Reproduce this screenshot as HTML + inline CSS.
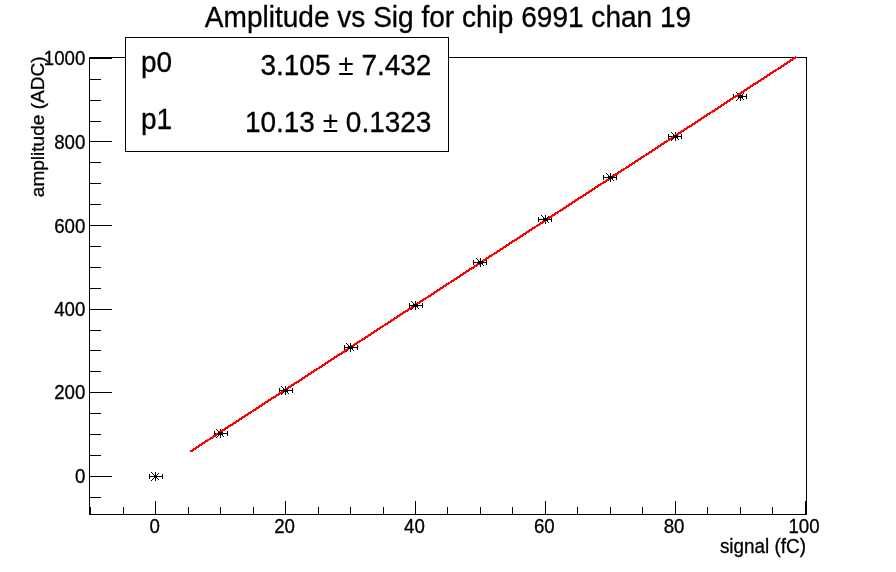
<!DOCTYPE html>
<html lang="en"><head><meta charset="utf-8"><title>Amplitude vs Sig for chip 6991 chan 19</title>
<style>
html,body{margin:0;padding:0;background:#fff;}
body{width:896px;height:572px;overflow:hidden;}
svg{display:block;}
text{font-family:"Liberation Sans",sans-serif;fill:#000;stroke:#000;stroke-width:0.3px;}
.ax{font-size:18.7px;}
.big{font-size:28.05px;}
.st{font-size:28px;}
.rot{font-size:19.05px;}
.xt{font-size:18.9px;}
</style></head><body>
<svg width="896" height="572" viewBox="0 0 896 572">
<rect x="0" y="0" width="896" height="572" fill="#fff"/>
<g shape-rendering="crispEdges" fill="#000">
<rect x="89" y="57" width="718" height="1"/>
<rect x="89" y="514" width="718" height="1"/>
<rect x="89" y="57" width="1" height="458"/>
<rect x="806" y="57" width="1" height="458"/>
<rect x="89" y="497" width="12" height="1"/>
<rect x="89" y="476" width="23" height="1"/>
<rect x="89" y="455" width="12" height="1"/>
<rect x="89" y="434" width="12" height="1"/>
<rect x="89" y="413" width="12" height="1"/>
<rect x="89" y="392" width="23" height="1"/>
<rect x="89" y="371" width="12" height="1"/>
<rect x="89" y="350" width="12" height="1"/>
<rect x="89" y="330" width="12" height="1"/>
<rect x="89" y="309" width="23" height="1"/>
<rect x="89" y="288" width="12" height="1"/>
<rect x="89" y="267" width="12" height="1"/>
<rect x="89" y="246" width="12" height="1"/>
<rect x="89" y="225" width="23" height="1"/>
<rect x="89" y="204" width="12" height="1"/>
<rect x="89" y="183" width="12" height="1"/>
<rect x="89" y="162" width="12" height="1"/>
<rect x="89" y="141" width="23" height="1"/>
<rect x="89" y="121" width="12" height="1"/>
<rect x="89" y="100" width="12" height="1"/>
<rect x="89" y="79" width="12" height="1"/>
<rect x="89" y="58" width="23" height="1"/>
<rect x="90" y="507" width="1" height="8"/>
<rect x="123" y="507" width="1" height="8"/>
<rect x="155" y="501" width="1" height="14"/>
<rect x="188" y="507" width="1" height="8"/>
<rect x="220" y="507" width="1" height="8"/>
<rect x="253" y="507" width="1" height="8"/>
<rect x="285" y="501" width="1" height="14"/>
<rect x="318" y="507" width="1" height="8"/>
<rect x="350" y="507" width="1" height="8"/>
<rect x="383" y="507" width="1" height="8"/>
<rect x="415" y="501" width="1" height="14"/>
<rect x="447" y="507" width="1" height="8"/>
<rect x="480" y="507" width="1" height="8"/>
<rect x="512" y="507" width="1" height="8"/>
<rect x="545" y="501" width="1" height="14"/>
<rect x="577" y="507" width="1" height="8"/>
<rect x="610" y="507" width="1" height="8"/>
<rect x="642" y="507" width="1" height="8"/>
<rect x="675" y="501" width="1" height="14"/>
<rect x="707" y="507" width="1" height="8"/>
<rect x="740" y="507" width="1" height="8"/>
<rect x="772" y="507" width="1" height="8"/>
<rect x="805" y="501" width="1" height="14"/>
</g>
<g shape-rendering="crispEdges" fill="#000" stroke="none">
<rect x="149" y="476" width="14" height="1"/>
<rect x="149" y="474" width="1" height="5"/>
<rect x="162" y="474" width="1" height="5"/>
<rect x="155" y="472" width="1" height="9"/>
<rect x="151" y="472" width="1" height="1"/>
<rect x="151" y="480" width="1" height="1"/>
<rect x="152" y="473" width="1" height="1"/>
<rect x="152" y="479" width="1" height="1"/>
<rect x="153" y="474" width="1" height="1"/>
<rect x="153" y="478" width="1" height="1"/>
<rect x="154" y="475" width="1" height="1"/>
<rect x="154" y="477" width="1" height="1"/>
<rect x="155" y="476" width="1" height="1"/>
<rect x="155" y="476" width="1" height="1"/>
<rect x="156" y="477" width="1" height="1"/>
<rect x="156" y="475" width="1" height="1"/>
<rect x="157" y="478" width="1" height="1"/>
<rect x="157" y="474" width="1" height="1"/>
<rect x="158" y="479" width="1" height="1"/>
<rect x="158" y="473" width="1" height="1"/>
<rect x="214" y="433" width="14" height="1"/>
<rect x="214" y="431" width="1" height="5"/>
<rect x="227" y="431" width="1" height="5"/>
<rect x="220" y="429" width="1" height="9"/>
<rect x="216" y="429" width="1" height="1"/>
<rect x="216" y="437" width="1" height="1"/>
<rect x="217" y="430" width="1" height="1"/>
<rect x="217" y="436" width="1" height="1"/>
<rect x="218" y="431" width="1" height="1"/>
<rect x="218" y="435" width="1" height="1"/>
<rect x="219" y="432" width="1" height="1"/>
<rect x="219" y="434" width="1" height="1"/>
<rect x="220" y="433" width="1" height="1"/>
<rect x="220" y="433" width="1" height="1"/>
<rect x="221" y="434" width="1" height="1"/>
<rect x="221" y="432" width="1" height="1"/>
<rect x="222" y="435" width="1" height="1"/>
<rect x="222" y="431" width="1" height="1"/>
<rect x="223" y="436" width="1" height="1"/>
<rect x="223" y="430" width="1" height="1"/>
<rect x="279" y="390" width="14" height="1"/>
<rect x="279" y="388" width="1" height="5"/>
<rect x="292" y="388" width="1" height="5"/>
<rect x="285" y="386" width="1" height="9"/>
<rect x="281" y="386" width="1" height="1"/>
<rect x="281" y="394" width="1" height="1"/>
<rect x="282" y="387" width="1" height="1"/>
<rect x="282" y="393" width="1" height="1"/>
<rect x="283" y="388" width="1" height="1"/>
<rect x="283" y="392" width="1" height="1"/>
<rect x="284" y="389" width="1" height="1"/>
<rect x="284" y="391" width="1" height="1"/>
<rect x="285" y="390" width="1" height="1"/>
<rect x="285" y="390" width="1" height="1"/>
<rect x="286" y="391" width="1" height="1"/>
<rect x="286" y="389" width="1" height="1"/>
<rect x="287" y="392" width="1" height="1"/>
<rect x="287" y="388" width="1" height="1"/>
<rect x="288" y="393" width="1" height="1"/>
<rect x="288" y="387" width="1" height="1"/>
<rect x="344" y="347" width="14" height="1"/>
<rect x="344" y="345" width="1" height="5"/>
<rect x="357" y="345" width="1" height="5"/>
<rect x="350" y="343" width="1" height="9"/>
<rect x="346" y="343" width="1" height="1"/>
<rect x="346" y="351" width="1" height="1"/>
<rect x="347" y="344" width="1" height="1"/>
<rect x="347" y="350" width="1" height="1"/>
<rect x="348" y="345" width="1" height="1"/>
<rect x="348" y="349" width="1" height="1"/>
<rect x="349" y="346" width="1" height="1"/>
<rect x="349" y="348" width="1" height="1"/>
<rect x="350" y="347" width="1" height="1"/>
<rect x="350" y="347" width="1" height="1"/>
<rect x="351" y="348" width="1" height="1"/>
<rect x="351" y="346" width="1" height="1"/>
<rect x="352" y="349" width="1" height="1"/>
<rect x="352" y="345" width="1" height="1"/>
<rect x="353" y="350" width="1" height="1"/>
<rect x="353" y="344" width="1" height="1"/>
<rect x="409" y="305" width="14" height="1"/>
<rect x="409" y="303" width="1" height="5"/>
<rect x="422" y="303" width="1" height="5"/>
<rect x="415" y="301" width="1" height="9"/>
<rect x="411" y="301" width="1" height="1"/>
<rect x="411" y="309" width="1" height="1"/>
<rect x="412" y="302" width="1" height="1"/>
<rect x="412" y="308" width="1" height="1"/>
<rect x="413" y="303" width="1" height="1"/>
<rect x="413" y="307" width="1" height="1"/>
<rect x="414" y="304" width="1" height="1"/>
<rect x="414" y="306" width="1" height="1"/>
<rect x="415" y="305" width="1" height="1"/>
<rect x="415" y="305" width="1" height="1"/>
<rect x="416" y="306" width="1" height="1"/>
<rect x="416" y="304" width="1" height="1"/>
<rect x="417" y="307" width="1" height="1"/>
<rect x="417" y="303" width="1" height="1"/>
<rect x="418" y="308" width="1" height="1"/>
<rect x="418" y="302" width="1" height="1"/>
<rect x="473" y="262" width="14" height="1"/>
<rect x="473" y="260" width="1" height="5"/>
<rect x="486" y="260" width="1" height="5"/>
<rect x="480" y="258" width="1" height="9"/>
<rect x="476" y="258" width="1" height="1"/>
<rect x="476" y="266" width="1" height="1"/>
<rect x="477" y="259" width="1" height="1"/>
<rect x="477" y="265" width="1" height="1"/>
<rect x="478" y="260" width="1" height="1"/>
<rect x="478" y="264" width="1" height="1"/>
<rect x="479" y="261" width="1" height="1"/>
<rect x="479" y="263" width="1" height="1"/>
<rect x="480" y="262" width="1" height="1"/>
<rect x="480" y="262" width="1" height="1"/>
<rect x="481" y="263" width="1" height="1"/>
<rect x="481" y="261" width="1" height="1"/>
<rect x="482" y="264" width="1" height="1"/>
<rect x="482" y="260" width="1" height="1"/>
<rect x="483" y="265" width="1" height="1"/>
<rect x="483" y="259" width="1" height="1"/>
<rect x="538" y="219" width="14" height="1"/>
<rect x="538" y="217" width="1" height="5"/>
<rect x="551" y="217" width="1" height="5"/>
<rect x="545" y="215" width="1" height="9"/>
<rect x="541" y="215" width="1" height="1"/>
<rect x="541" y="223" width="1" height="1"/>
<rect x="542" y="216" width="1" height="1"/>
<rect x="542" y="222" width="1" height="1"/>
<rect x="543" y="217" width="1" height="1"/>
<rect x="543" y="221" width="1" height="1"/>
<rect x="544" y="218" width="1" height="1"/>
<rect x="544" y="220" width="1" height="1"/>
<rect x="545" y="219" width="1" height="1"/>
<rect x="545" y="219" width="1" height="1"/>
<rect x="546" y="220" width="1" height="1"/>
<rect x="546" y="218" width="1" height="1"/>
<rect x="547" y="221" width="1" height="1"/>
<rect x="547" y="217" width="1" height="1"/>
<rect x="548" y="222" width="1" height="1"/>
<rect x="548" y="216" width="1" height="1"/>
<rect x="603" y="177" width="14" height="1"/>
<rect x="603" y="175" width="1" height="5"/>
<rect x="616" y="175" width="1" height="5"/>
<rect x="610" y="173" width="1" height="9"/>
<rect x="606" y="173" width="1" height="1"/>
<rect x="606" y="181" width="1" height="1"/>
<rect x="607" y="174" width="1" height="1"/>
<rect x="607" y="180" width="1" height="1"/>
<rect x="608" y="175" width="1" height="1"/>
<rect x="608" y="179" width="1" height="1"/>
<rect x="609" y="176" width="1" height="1"/>
<rect x="609" y="178" width="1" height="1"/>
<rect x="610" y="177" width="1" height="1"/>
<rect x="610" y="177" width="1" height="1"/>
<rect x="611" y="178" width="1" height="1"/>
<rect x="611" y="176" width="1" height="1"/>
<rect x="612" y="179" width="1" height="1"/>
<rect x="612" y="175" width="1" height="1"/>
<rect x="613" y="180" width="1" height="1"/>
<rect x="613" y="174" width="1" height="1"/>
<rect x="668" y="136" width="14" height="1"/>
<rect x="668" y="134" width="1" height="5"/>
<rect x="681" y="134" width="1" height="5"/>
<rect x="675" y="132" width="1" height="9"/>
<rect x="671" y="132" width="1" height="1"/>
<rect x="671" y="140" width="1" height="1"/>
<rect x="672" y="133" width="1" height="1"/>
<rect x="672" y="139" width="1" height="1"/>
<rect x="673" y="134" width="1" height="1"/>
<rect x="673" y="138" width="1" height="1"/>
<rect x="674" y="135" width="1" height="1"/>
<rect x="674" y="137" width="1" height="1"/>
<rect x="675" y="136" width="1" height="1"/>
<rect x="675" y="136" width="1" height="1"/>
<rect x="676" y="137" width="1" height="1"/>
<rect x="676" y="135" width="1" height="1"/>
<rect x="677" y="138" width="1" height="1"/>
<rect x="677" y="134" width="1" height="1"/>
<rect x="678" y="139" width="1" height="1"/>
<rect x="678" y="133" width="1" height="1"/>
<rect x="733" y="96" width="14" height="1"/>
<rect x="733" y="94" width="1" height="5"/>
<rect x="746" y="94" width="1" height="5"/>
<rect x="740" y="92" width="1" height="9"/>
<rect x="736" y="92" width="1" height="1"/>
<rect x="736" y="100" width="1" height="1"/>
<rect x="737" y="93" width="1" height="1"/>
<rect x="737" y="99" width="1" height="1"/>
<rect x="738" y="94" width="1" height="1"/>
<rect x="738" y="98" width="1" height="1"/>
<rect x="739" y="95" width="1" height="1"/>
<rect x="739" y="97" width="1" height="1"/>
<rect x="740" y="96" width="1" height="1"/>
<rect x="740" y="96" width="1" height="1"/>
<rect x="741" y="97" width="1" height="1"/>
<rect x="741" y="95" width="1" height="1"/>
<rect x="742" y="98" width="1" height="1"/>
<rect x="742" y="94" width="1" height="1"/>
<rect x="743" y="99" width="1" height="1"/>
<rect x="743" y="93" width="1" height="1"/>
</g>
<line x1="190.3" y1="451.7" x2="796.2" y2="57.0" stroke="#ff0000" stroke-width="2.2" shape-rendering="crispEdges"/>
<g shape-rendering="crispEdges" fill="#000">
<rect x="218" y="432" width="5" height="3"/>
<rect x="283" y="389" width="5" height="3"/>
<rect x="348" y="346" width="5" height="3"/>
<rect x="413" y="304" width="5" height="3"/>
<rect x="478" y="261" width="5" height="3"/>
<rect x="543" y="218" width="5" height="3"/>
<rect x="608" y="176" width="5" height="3"/>
<rect x="673" y="135" width="5" height="3"/>
<rect x="738" y="95" width="5" height="3"/>
</g>
<g shape-rendering="crispEdges"><rect x="125.5" y="37.5" width="323" height="114" fill="#fff" stroke="#000" stroke-width="1"/></g>
<text class="st" transform="translate(141,72.2) scale(1,1.075)" text-anchor="start">p0</text>
<text class="st" transform="translate(431.4,74.8) scale(1,1.075)" text-anchor="end">3.105 <tspan stroke="none">±</tspan> 7.432</text>
<text class="st" transform="translate(141,129.1) scale(1,1.075)" text-anchor="start">p1</text>
<text class="st" transform="translate(431.4,131.8) scale(1,1.075)" text-anchor="end">10.13 <tspan stroke="none">±</tspan> 0.1323</text>
<text class="big" transform="translate(448,27.4) scale(1,1.075)" text-anchor="middle">Amplitude vs Sig for chip 6991 chan 19</text>
<text class="ax" transform="translate(85.4,483.1) scale(1,1.075)" text-anchor="end">0</text>
<text class="ax" transform="translate(85.4,399.3) scale(1,1.075)" text-anchor="end">200</text>
<text class="ax" transform="translate(85.4,316.4) scale(1,1.075)" text-anchor="end">400</text>
<text class="ax" transform="translate(85.4,232.8) scale(1,1.075)" text-anchor="end">600</text>
<text class="ax" transform="translate(85.4,148.8) scale(1,1.075)" text-anchor="end">800</text>
<text class="ax" transform="translate(85.4,65.2) scale(1,1.075)" text-anchor="end">1000</text>
<text class="ax" transform="translate(154.7,533.4) scale(1,1.075)" text-anchor="middle">0</text>
<text class="ax" transform="translate(284.6,533.4) scale(1,1.075)" text-anchor="middle">20</text>
<text class="ax" transform="translate(414.4,533.4) scale(1,1.075)" text-anchor="middle">40</text>
<text class="ax" transform="translate(544.3,533.4) scale(1,1.075)" text-anchor="middle">60</text>
<text class="ax" transform="translate(674.1,533.4) scale(1,1.075)" text-anchor="middle">80</text>
<text class="ax" transform="translate(804.0,533.4) scale(1,1.075)" text-anchor="middle">100</text>
<text class="xt" transform="translate(806,553) scale(1,1.075)" text-anchor="end">signal (fC)</text>
<text class="rot" transform="translate(44.2,56.4) rotate(-90) scale(1,0.98)" text-anchor="end">amplitude (ADC)</text>
</svg></body></html>
